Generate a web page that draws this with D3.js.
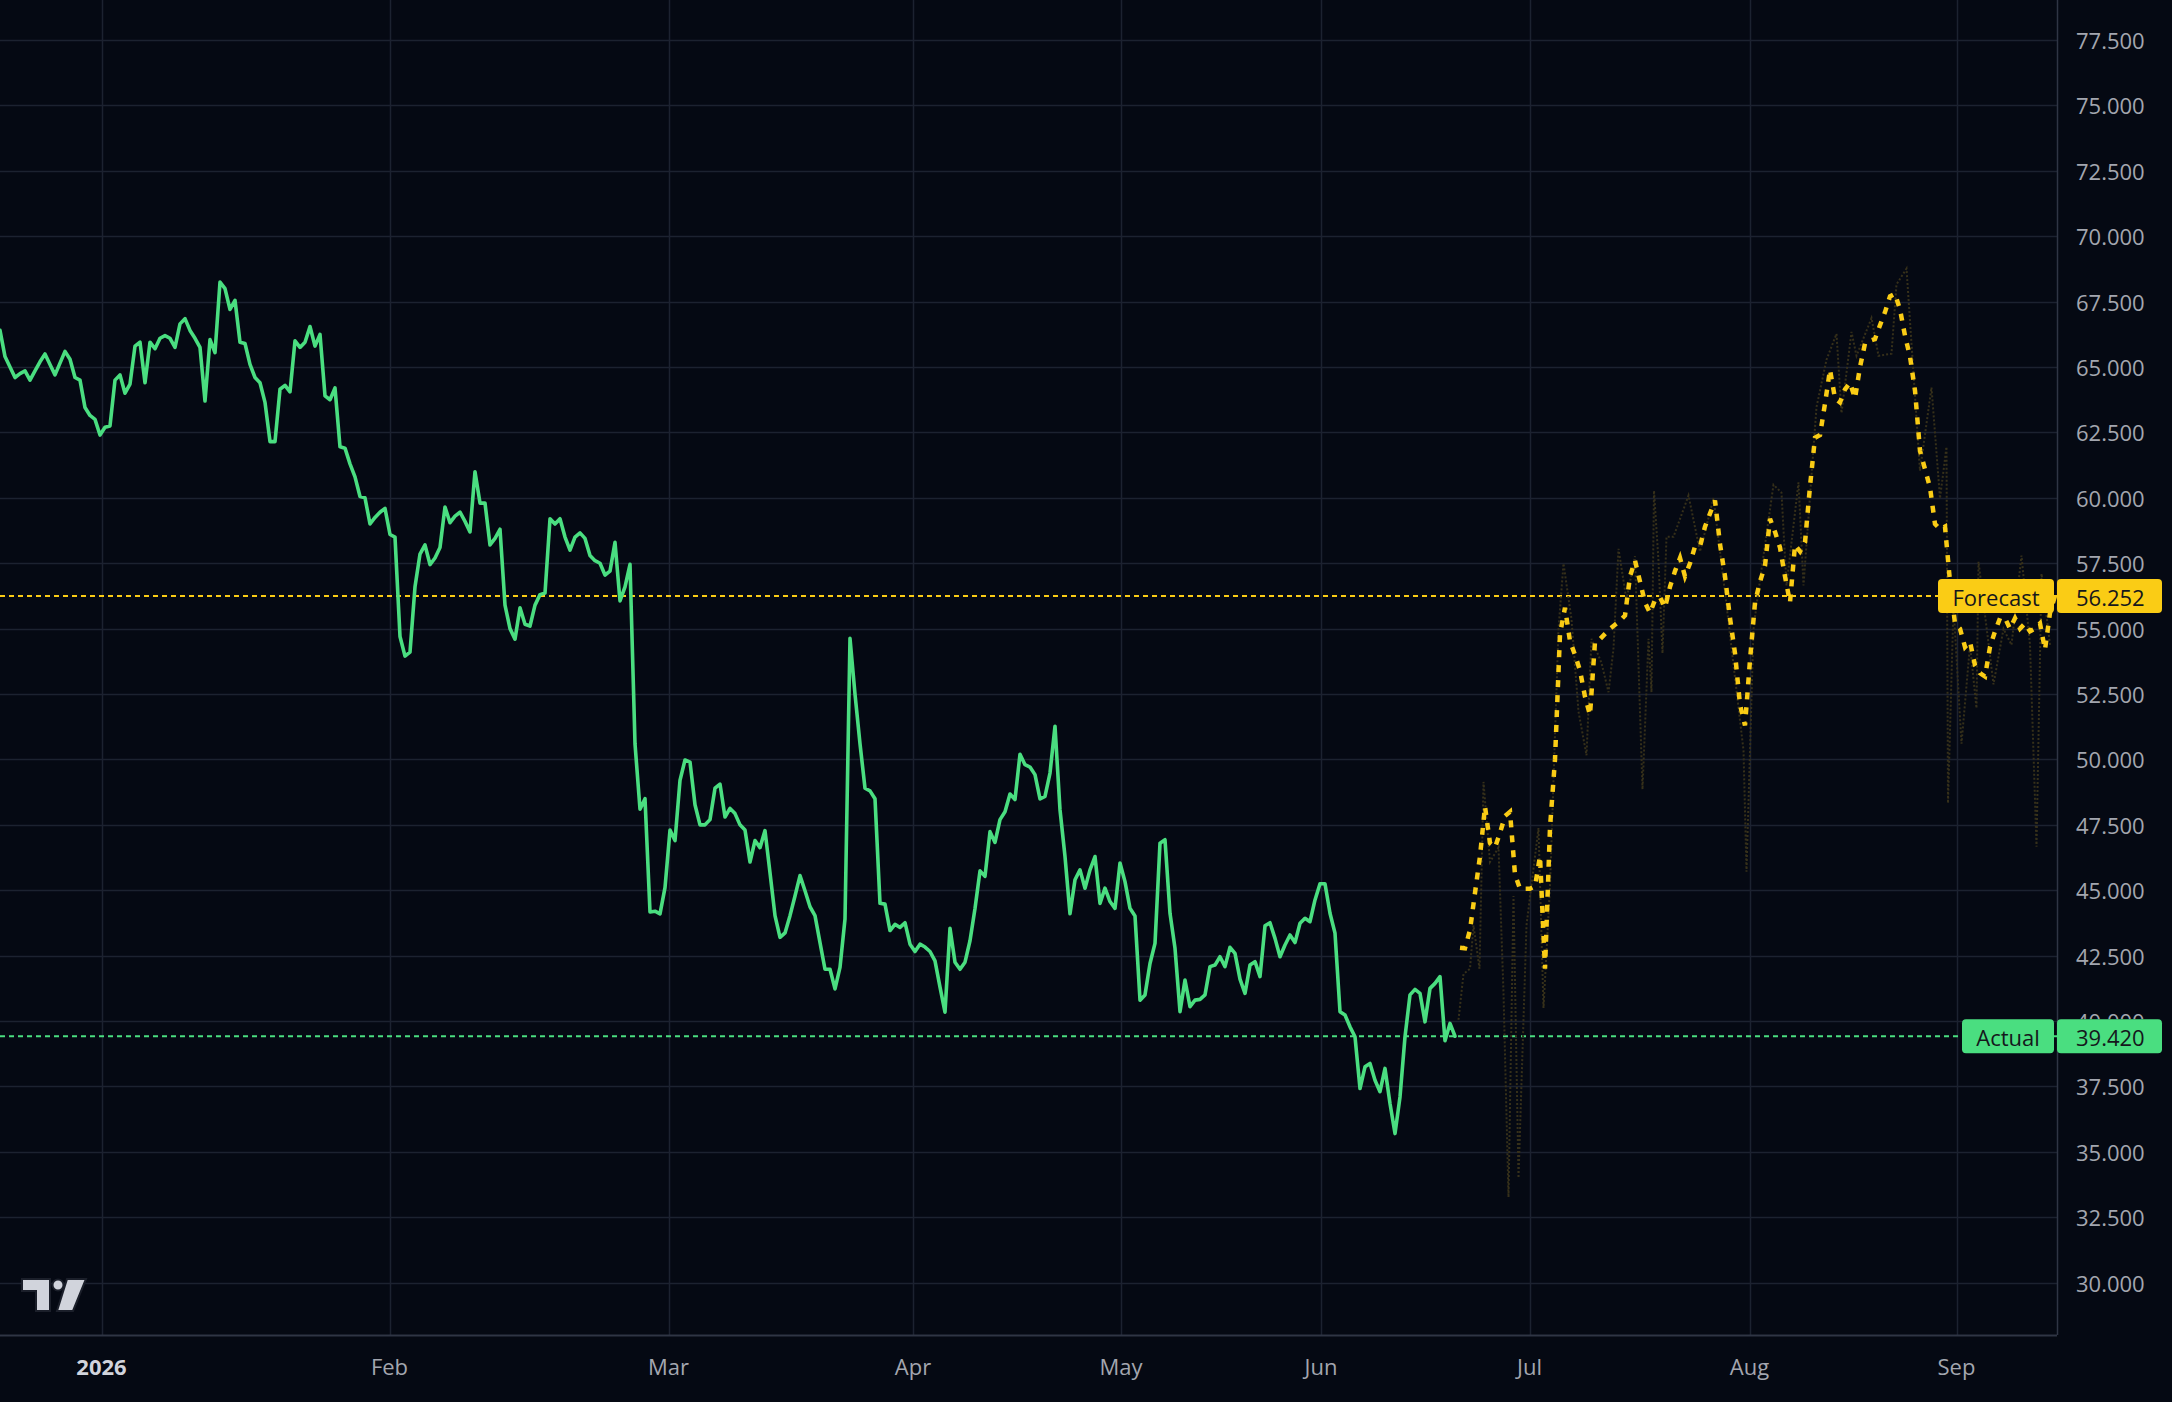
<!DOCTYPE html>
<html>
<head>
<meta charset="utf-8">
<script src="https://cdn.jsdelivr.net/npm/d3@7/dist/d3.min.js"></script>
<style>
  html, body { margin: 0; padding: 0; background: #050913; }
  svg { display: block; }
  text { font-family: "Open Sans", "Noto Sans", sans-serif; }
</style>
</head>
<body>
<svg id="chart" width="2172" height="1402"></svg>
<script>
// ---------------- DATA ----------------
const monthLabels = ["2026", "Feb", "Mar", "Apr", "May", "Jun", "Jul", "Aug", "Sep"];
const monthBars = [20.3, 77.9, 133.7, 182.6, 224.2, 264.2, 305.9, 349.9, 391.3];

const priceTicks = [30, 32.5, 35, 37.5, 40, 42.5, 45, 47.5, 50, 52.5, 55, 57.5, 60, 62.5, 65, 67.5, 70, 72.5, 75, 77.5];

const actualStartBar = 0;
const actualValues = [
  66.4, 65.4, 65.0, 64.6, 64.75, 64.85, 64.5, 64.85, 65.2, 65.5,
  65.1, 64.7, 65.15, 65.6, 65.3, 64.6, 64.5, 63.45, 63.15, 63.0,
  62.4, 62.7, 62.75, 64.5, 64.7, 64.0, 64.35, 65.8, 65.95, 64.4,
  65.95, 65.7, 66.1, 66.2, 66.1, 65.75, 66.65, 66.85, 66.4, 66.1,
  65.75, 63.7, 66.05, 65.55, 68.25, 68.0, 67.2, 67.55, 65.95, 65.9,
  65.1, 64.6, 64.4, 63.65, 62.15, 62.15, 64.15, 64.3, 64.05, 66.0,
  65.75, 65.95, 66.55, 65.8, 66.25, 63.9, 63.75, 64.2, 61.95, 61.9,
  61.3, 60.8, 60.05, 60.0, 59.0, 59.25, 59.45, 59.6, 58.6, 58.5,
  54.7, 53.95, 54.1, 56.6, 57.85, 58.2, 57.45, 57.7, 58.1, 59.65,
  59.05, 59.3, 59.45, 59.1, 58.7, 61.0, 59.8, 59.8, 58.2, 58.45,
  58.8, 55.9, 55.0, 54.6, 55.8, 55.17, 55.1, 55.9, 56.3, 56.36,
  59.2, 59.0, 59.2, 58.5, 58.0, 58.5, 58.66, 58.45, 57.8, 57.6,
  57.5, 57.05, 57.2, 58.3, 56.06, 56.6, 57.46, 50.6, 48.1, 48.5,
  44.17, 44.2, 44.1, 45.1, 47.3, 46.9, 49.2, 49.98, 49.9, 48.27,
  47.5, 47.5, 47.7, 48.9, 49.06, 47.8, 48.13, 47.93, 47.5, 47.3,
  46.08, 46.9, 46.63, 47.28, 45.67, 44.03, 43.2, 43.37, 44.03, 44.78,
  45.56, 44.98, 44.37, 44.03, 43.0, 41.98, 41.98, 41.23, 42.05, 43.9,
  54.63, 52.5, 50.6, 48.9, 48.8, 48.5, 44.5, 44.47, 43.46, 43.7,
  43.58, 43.76, 42.94, 42.66, 42.94, 42.83, 42.66, 42.3, 41.3, 40.34,
  43.55, 42.25, 41.98, 42.25, 43.07, 44.3, 45.74, 45.53, 47.24, 46.83,
  47.7, 48.0, 48.68, 48.47, 50.2, 49.8, 49.71, 49.42, 48.49, 48.59,
  49.48, 51.27, 48.08, 46.29, 44.1, 45.4, 45.78, 45.08, 45.78, 46.29,
  44.5, 45.08, 44.57, 44.31, 46.04, 45.33, 44.31, 44.02, 40.8, 41.0,
  42.2, 42.97, 46.8, 46.93, 44.12, 42.78, 40.36, 41.57, 40.55, 40.8,
  40.83, 41.0, 42.08, 42.14, 42.46, 42.08, 42.82, 42.59, 41.6, 41.06,
  42.14, 42.27, 41.7, 43.64, 43.76, 43.16, 42.46, 42.91, 43.29, 43.0,
  43.74, 43.93, 43.8, 44.63, 45.25, 45.25, 44.12, 43.36, 40.36, 40.23,
  39.78, 39.4, 37.42, 38.25, 38.38, 37.74, 37.3, 38.19, 36.85, 35.7,
  37.1, 39.4, 41.0, 41.21, 41.06, 39.97, 41.25, 41.44, 41.7, 39.25,
  39.91, 39.42
];

const forecastStartBar = 292;
const forecastValues = [
  42.8, 42.78, 43.48, 44.9, 46.3, 48.2, 46.8, 46.64, 47.19, 47.84,
  48.0, 45.6, 45.06, 45.06, 45.06, 45.15, 46.3, 42.0, 47.4, 50.0,
  54.8, 55.8, 54.52, 54.0, 53.4, 52.4, 51.7, 54.5, 54.6, 54.8,
  55.0, 55.15, 55.3, 55.5, 57.0, 57.6, 56.8, 56.0, 55.6, 56.1,
  56.2, 55.8, 56.6, 57.2, 57.7, 57.0, 57.5, 58.14, 58.14, 58.9,
  59.4, 59.9, 58.23, 57.0, 55.4, 54.06, 52.1, 51.3, 53.8, 56.0,
  56.8, 57.4, 59.2, 58.7, 58.1, 57.0, 56.0, 58.2, 57.95, 58.3,
  60.44, 62.3, 62.4, 63.6, 64.9, 63.8, 63.65, 64.15, 64.4, 63.8,
  65.0, 65.9, 66.0, 66.07, 66.6, 67.1, 67.7, 67.8, 67.2, 66.2,
  65.4, 64.1, 61.8, 61.1, 60.4, 59.0, 58.8, 58.9, 56.8, 55.2,
  55.0, 54.3, 54.5, 53.6, 53.3, 53.17, 54.3, 54.9, 55.4, 55.4,
  55.0, 55.4, 55.0, 55.2, 54.9, 55.0, 55.2, 54.2, 55.6, 56.252
];

// faint secondary forecast trace: bar index and value
const rangeBars = [
  291.7, 292.7, 294, 294.7, 295.9, 296.7, 298, 299.7, 300.7, 301.7,
  302.7, 303.7, 305.3, 307.7, 308.7, 310, 311.7, 312.7, 314.3, 315.7,
  317.3, 318.3, 320.3, 321.7, 322.7, 323.7, 325.3, 327, 328.5, 329.7,
  330.3, 330.8, 331.7, 332.5, 333.3, 334.7, 337.7, 340, 342.7, 345.3,
  348.7, 349.3, 350.7, 351.3, 354.7, 356.3, 357.3, 359.7, 360.7, 363.3,
  365.3, 367.3, 368.3, 370.3, 371.3, 374.3, 375.7, 378.3, 379.3, 381.3,
  384, 386.3, 388, 389.3, 389.6, 390.7, 392.3, 394, 395.3, 395.7,
  398.7, 400.7, 402.3, 404.3, 406, 407.3, 408.3, 410
];
const rangeValues = [
  40.05, 41.8, 42.0, 43.66, 42.0, 49.14, 46.08, 46.64, 41.07, 33.27,
  44.78, 34.0, 43.66, 47.38, 40.5, 45.15, 54.98, 57.49, 55.36, 51.83,
  50.16, 54.61, 53.69, 52.57, 54.24, 58.05, 56.1, 57.77, 48.86, 54.61,
  52.57, 60.27, 57.58, 54.06, 58.51, 58.51, 60.09, 57.95, 59.99, 55.91,
  50.35, 45.71, 54.98, 55.9, 60.5, 60.2, 56.65, 60.59, 56.65, 63.47,
  65.28, 66.27, 63.24, 66.34, 65.43, 66.87, 65.43, 65.51, 68.16, 68.76,
  61.04, 64.22, 59.98, 61.95, 48.33, 55.9, 50.6, 54.38, 51.96, 57.56,
  52.87, 54.99, 54.38, 57.79, 54.38, 46.66, 57.1, 54.38
];

const forecastLabel = "Forecast";
const actualLabel = "Actual";
const lastForecast = 56.252;
const lastActual = 39.42;

// ---------------- LAYOUT ----------------
const W = 2172, H = 1402;
const plotRight = 2057, plotBottom = 1335;
const colors = {
  bg: "#050913",
  grid: "#1c2230",
  axisLine: "#2f3544",
  tickText: "#a3a6af",
  yearText: "#d1d4dc",
  green: "#4ade80",
  yellow: "#facc15",
  faint: "#36301a",
  labelText: "#15171c"
};

const svg = d3.select("#chart");
svg.append("rect").attr("width", W).attr("height", H).attr("fill", colors.bg);

const x = d3.scaleLinear().domain([0, 411.4]).range([0, plotRight]);
const y = d3.scaleLinear().domain([28.0, 79.03]).range([plotBottom, 0]);

const defs = svg.append("defs");
defs.append("clipPath").attr("id", "plotClip")
  .append("rect").attr("x", 0).attr("y", 0).attr("width", plotRight).attr("height", plotBottom);

// grid
const grid = svg.append("g");
grid.selectAll("line.h").data(priceTicks).join("line")
  .attr("x1", 0).attr("x2", plotRight)
  .attr("y1", d => Math.round(y(d)) + 0.5).attr("y2", d => Math.round(y(d)) + 0.5)
  .attr("stroke", colors.grid).attr("stroke-width", 1.5);
grid.selectAll("line.v").data(monthBars).join("line")
  .attr("y1", 0).attr("y2", plotBottom)
  .attr("x1", d => Math.round(x(d)) + 0.5).attr("x2", d => Math.round(x(d)) + 0.5)
  .attr("stroke", colors.grid).attr("stroke-width", 1.5);

// axis borders
svg.append("line").attr("x1", plotRight + 0.5).attr("x2", plotRight + 0.5).attr("y1", 0).attr("y2", plotBottom)
  .attr("stroke", colors.axisLine).attr("stroke-width", 1.5);
svg.append("line").attr("x1", 0).attr("x2", plotRight).attr("y1", plotBottom + 0.5).attr("y2", plotBottom + 0.5)
  .attr("stroke", colors.axisLine).attr("stroke-width", 2);

// price axis labels; ticks that sit under a price label box are clipped to the part above the box
const fmt = d3.format(".3f");
const boxHalf = 17;
const boxTops = [lastActual, lastForecast].map(v => y(v) - boxHalf);
priceTicks.forEach((d, k) => {
  const cy = y(d);
  const t = svg.append("text")
    .attr("x", 2076).attr("y", cy)
    .attr("dominant-baseline", "central")
    .attr("font-size", 22).attr("fill", colors.tickText)
    .text(fmt(d));
  boxTops.forEach(top => {
    if (cy > top - 14 && cy < top + 2 * boxHalf + 14) {
      const id = "tickClip" + k;
      defs.append("clipPath").attr("id", id).append("rect")
        .attr("x", 2060).attr("y", cy - 20).attr("width", 110).attr("height", Math.max(0, top - (cy - 20)));
      t.attr("clip-path", `url(#${id})`);
    }
  });
});

// time axis labels
svg.append("g").selectAll("text").data(monthLabels).join("text")
  .attr("x", (d, i) => x(monthBars[i])).attr("y", 1366)
  .attr("text-anchor", "middle").attr("dominant-baseline", "central")
  .attr("font-size", 22)
  .attr("font-weight", (d, i) => i === 0 ? 700 : 400)
  .attr("fill", (d, i) => i === 0 ? colors.yearText : colors.tickText)
  .text(d => d);

const plot = svg.append("g").attr("clip-path", "url(#plotClip)");

// horizontal price lines
plot.append("line").attr("x1", 0).attr("x2", plotRight)
  .attr("y1", y(lastForecast)).attr("y2", y(lastForecast))
  .attr("stroke", colors.yellow).attr("stroke-width", 2).attr("stroke-dasharray", "5 4");
plot.append("line").attr("x1", 0).attr("x2", plotRight)
  .attr("y1", y(lastActual)).attr("y2", y(lastActual))
  .attr("stroke", colors.green).attr("stroke-width", 2).attr("stroke-dasharray", "5 4");

// faint trace
const rangeData = rangeBars.map((b, i) => [b, rangeValues[i]]);
plot.append("path").datum(rangeData)
  .attr("fill", "none").attr("stroke", colors.faint).attr("stroke-width", 2)
  .attr("stroke-dasharray", "2 2")
  .attr("d", d3.line().x(d => x(d[0])).y(d => y(d[1])));

// actual line
const line = d3.line().x(d => x(d[0])).y(d => y(d[1]));
const actualData = actualValues.map((v, i) => [actualStartBar + i, v]);
plot.append("path").datum(actualData)
  .attr("fill", "none").attr("stroke", colors.green).attr("stroke-width", 3.6)
  .attr("stroke-linejoin", "round").attr("stroke-linecap", "round")
  .attr("d", line);

// forecast line
const forecastData = forecastValues.map((v, i) => [forecastStartBar + i, v]);
plot.append("path").datum(forecastData)
  .attr("fill", "none").attr("stroke", colors.yellow).attr("stroke-width", 4.5)
  .attr("stroke-dasharray", "7 8")
  .attr("d", line);

// price labels
function priceLabel(name, value, color, nameLeft) {
  const cy = y(value);
  const g = svg.append("g");
  g.append("rect").attr("x", nameLeft).attr("y", cy - boxHalf).attr("width", 2054 - nameLeft).attr("height", boxHalf * 2)
    .attr("rx", 4).attr("fill", color);
  g.append("rect").attr("x", 2057).attr("y", cy - boxHalf).attr("width", 105).attr("height", boxHalf * 2)
    .attr("rx", 4).attr("fill", color);
  g.append("text").attr("x", (nameLeft + 2054) / 2).attr("y", cy + 1)
    .attr("text-anchor", "middle").attr("dominant-baseline", "central")
    .attr("font-size", 22).attr("fill", colors.labelText).text(name);
  g.append("text").attr("x", 2076).attr("y", cy + 1)
    .attr("dominant-baseline", "central")
    .attr("font-size", 22).attr("fill", colors.labelText).text(fmt(value));
}
priceLabel(forecastLabel, lastForecast, colors.yellow, 1938);
priceLabel(actualLabel, lastActual, colors.green, 1962);

// logo
const logo = svg.append("g").attr("fill", "#d1d4dc").attr("stroke", "#1b1f2a").attr("stroke-width", 2);
logo.append("path").attr("d", "M22,1279 H50 V1311 H36 V1291 H22 Z");
logo.append("circle").attr("cx", 58).attr("cy", 1285).attr("r", 5.5);
logo.append("path").attr("d", "M67,1279 H86 L73,1311 H57 Z");
</script>
</body>
</html>
